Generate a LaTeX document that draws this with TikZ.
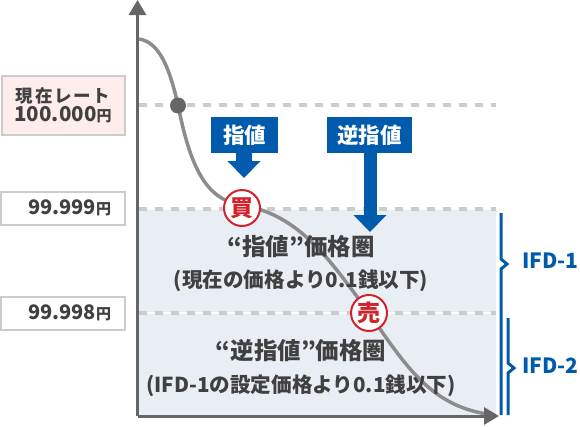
\documentclass[tikz,border=0pt]{standalone}
\usepackage{fontspec}
\setmainfont{Noto Sans CJK JP}
\usepackage{xcolor}
\usetikzlibrary{arrows.meta,positioning}
\definecolor{accent}{HTML}{005BAC}
\definecolor{axisgray}{HTML}{666666}
\definecolor{curvegray}{HTML}{8C8C8C}
\definecolor{dashgray}{HTML}{CCCCCC}
\definecolor{panelblue}{HTML}{E9EEF4}
\definecolor{textgray}{HTML}{404040}
\definecolor{signred}{HTML}{D2232A}
\newcommand{\fsz}[1]{\fontsize{#1}{#1}\selectfont}
\tikzset{
  ratebox/.style={draw=dashgray, line width=2pt, inner sep=0pt, text=textgray, font=\bfseries},
  orderbox/.style={fill=accent, inner sep=0pt, text=white, minimum height=36pt, font=\fsz{21.5}\bfseries},
  signmark/.style={circle, draw=signred, line width=2pt, fill=white, minimum size=36pt, inner sep=0pt, text=signred, font=\fsz{23}\bfseries},
  zonetext/.style={text=textgray, inner sep=0pt, font=\bfseries},
  ifdlabel/.style={text=accent, inner sep=0pt, font=\fsz{21}\bfseries},
  levelline/.style={dashgray, line width=3.5pt, dash pattern=on 8pt off 8pt},
  ifdbrace/.style={accent, line width=3pt, line join=miter}
}
\begin{document}
\begin{tikzpicture}[x=1pt, y=-1pt]
  \useasboundingbox (0,0) rectangle (580,426);
  % shaded zone
  \fill[panelblue] (139,210) rectangle (496,415);
  \draw[white, line width=2pt] (139,313) -- (496,313);
  % price levels
  \draw[levelline] (139,105) -- (496,105);
  \draw[levelline] (139,209) -- (496,209);
  \draw[levelline] (139,313) -- (496,313);
  % curve
  \draw[curvegray, line width=3.5pt] (139,39) .. controls (160,42) and (170,70) .. (178,105)
    .. controls (190,165) and (205,200) .. (242,205)
    .. controls (300,215) and (330,260) .. (369,313)
    .. controls (405,365) and (430,405) .. (487,414);
  % axes
  \coordinate (origin) at (137.5,416);
  \coordinate (ytip) at (137.5,0);
  \coordinate (xtip) at (499,416);
  \draw[-{Triangle[length=15pt,width=17pt]}, axisgray, line width=3pt] (origin) -- (ytip);
  \draw[-{Triangle[length=15pt,width=17pt]}, axisgray, line width=3pt] (origin) -- (xtip);
  \node[circle, fill=axisgray, minimum size=16pt, inner sep=0pt] (rate) at (178,105.5) {};
  % price boxes
  \node[ratebox, fill=red!7, minimum width=123pt, minimum height=59pt, align=center] (now) at (63,105)
    {{\fsz{17.5}\addfontfeature{LetterSpace=10}現在レート}\\[1pt]{\fsz{20.5}100.000}{\fsz{15}円}};
  \node[ratebox, fill=white, minimum width=124pt, minimum height=33pt, align=right, text width=97pt] (lvla) at (62.5,208)
    {{\fsz{20}99.999}{\fsz{15}円}};
  \node[ratebox, fill=white, minimum width=124pt, minimum height=33pt, align=right, text width=97pt] (lvlb) at (62.5,313)
    {{\fsz{20}99.998}{\fsz{15}円}};
  % orders
  \node[orderbox, minimum width=67pt] (limit) at (244.5,135) {指値};
  \node[orderbox, minimum width=85pt] (stop) at (369.5,135) {逆指値};
  \coordinate (limittip) at (244,178);
  \coordinate (stoptip) at (370,232);
  \draw[-{Triangle[length=17pt,width=32pt]}, accent, line width=16pt] (limit.south -| limittip) -- (limittip);
  \draw[-{Triangle[length=17pt,width=32pt]}, accent, line width=13pt] (stop.south -| stoptip) -- (stoptip);
  % zone texts
  \node[zonetext, font=\fsz{23.5}\bfseries] (zonea) at (301,247) {“指値”価格圏};
  \node[zonetext, font=\fsz{20.6}\bfseries] (notea) at (301,281) {(現在の価格より0.1銭以下)};
  \node[zonetext, font=\fsz{23.5}\bfseries] (zoneb) at (301,351) {“逆指値”価格圏};
  \node[zonetext, font=\fsz{20.6}\bfseries] (noteb) at (301,386) {(IFD-1の設定価格より0.1銭以下)};
  % signs
  \node[signmark] (buy) at (242,208) {買};
  \node[signmark] (sell) at (369,313) {売};
  % braces
  \draw[ifdbrace] (501,213) -- (501,259) -- (507,264) -- (501,269) -- (501,415);
  \draw[ifdbrace] (508,318) -- (508,363) -- (514,368) -- (508,373) -- (508,415);
  \node[ifdlabel, anchor=west] (ifda) at (522,261) {IFD-1};
  \node[ifdlabel, anchor=west] (ifdb) at (522,366) {IFD-2};
\end{tikzpicture}
\end{document}
